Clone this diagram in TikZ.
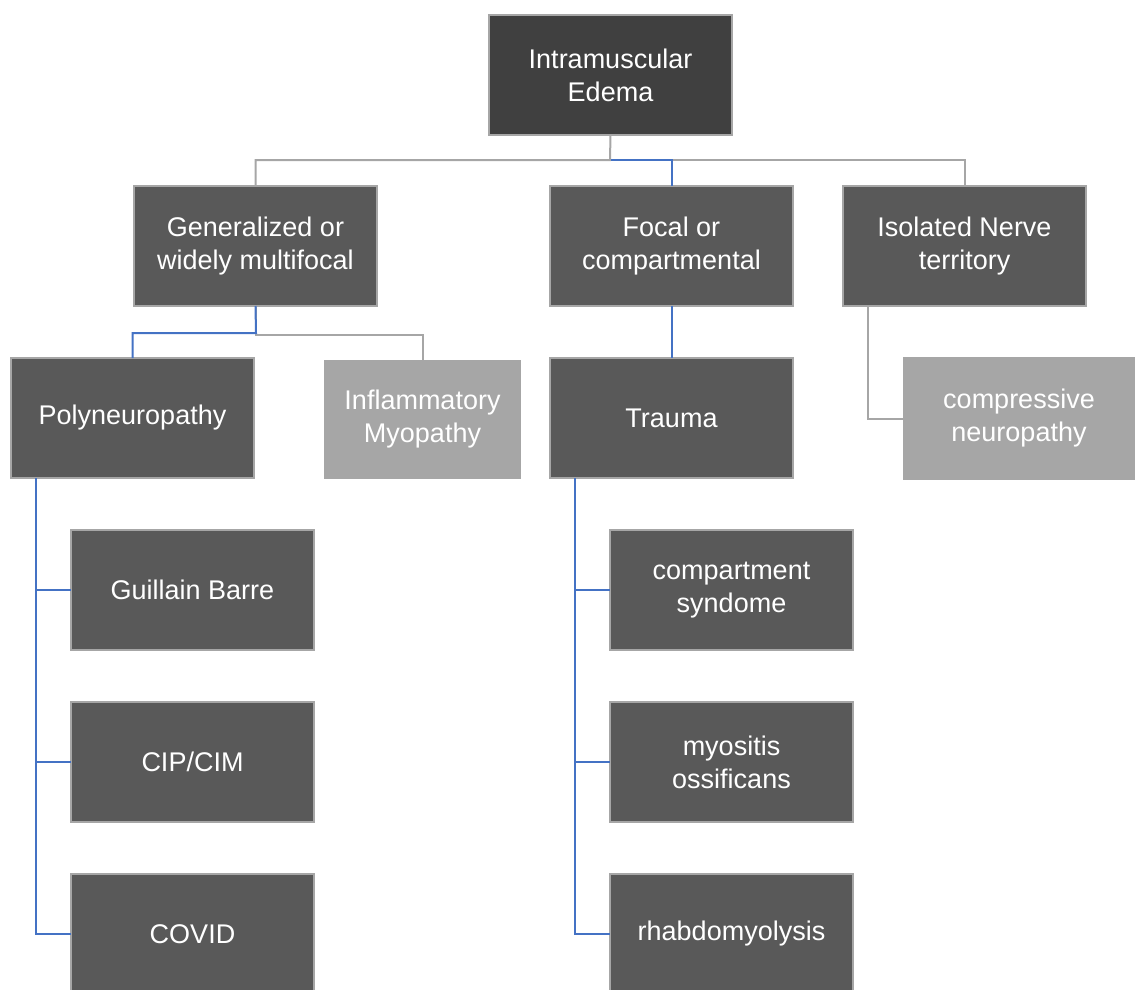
\documentclass[tikz,border=0pt]{standalone}
\usepackage{fontspec}
\setmainfont{Liberation Sans}
\definecolor{rootfill}{HTML}{404040}
\definecolor{boxfill}{HTML}{595959}
\definecolor{lightfill}{HTML}{A6A6A6}
\definecolor{edgegray}{HTML}{A6A6A6}
\definecolor{linkblue}{HTML}{4472C4}
\tikzset{
  box/.style={draw=edgegray, fill=boxfill, line width=2pt, text=white, align=center,
    font=\fontsize{27}{33}\selectfont, inner sep=0pt, outer sep=0pt,
    minimum width=243pt, minimum height=120pt, anchor=north west},
  rootbox/.style={box, fill=rootfill},
  lightbox/.style={box, draw=none, fill=lightfill},
  blue link/.style={draw=linkblue, line width=2pt},
  gray link/.style={draw=edgegray, line width=2pt},
}
\begin{document}
\begin{tikzpicture}[x=1pt,y=-1pt]
\useasboundingbox (0,0) rectangle (1135,990);
\clip (0,0) rectangle (1135,990);
% nodes
\node[rootbox] (root) at (489,15) {Intramuscular\\Edema};
\node[box] (gen) at (134,186) {Generalized or\\widely multifocal};
\node[box] (focal) at (550,186) {Focal or\\compartmental};
\node[box] (iso) at (843,186) {Isolated Nerve\\territory};
\node[box] (poly) at (11,358) {Polyneuropathy};
\node[lightbox, minimum width=197pt, minimum height=119pt] (infl) at (324,360) {Inflammatory\\Myopathy};
\node[box] (trauma) at (550,358) {Trauma};
\node[lightbox, minimum width=232pt, minimum height=123pt] (comp) at (903,357) {compressive\\neuropathy};
\node[box] (gb) at (71,530) {Guillain Barre};
\node[box] (cip) at (71,702) {CIP/CIM};
\node[box] (covid) at (71,874) {COVID};
\node[box] (csyn) at (610,530) {compartment\\syndome};
\node[box] (myo) at (610,702) {myositis\\ossificans};
\node[box] (rhab) at (610,874) {rhabdomyolysis};
% coordinates
\coordinate (rootbar) at (610,160);
\coordinate (genbar) at (256,333);
% root links
\draw[gray link] (root.south) -- (rootbar) -| (gen.north);
\draw[gray link] (rootbar) -| (iso.north);
\draw[blue link] (root.south |- rootbar) -| (focal.north);
% generalized links
\draw[gray link] (gen.south) |- ([yshift=-2pt]genbar) -| (infl.north);
\draw[blue link] (gen.south) -- (genbar) -| (poly.north);
% focal link
\draw[blue link] (focal.south) -- (trauma.north);
% isolated link
\draw[gray link] ([xshift=-96.5pt]iso.south) |- (comp.west);
% polyneuropathy children
\draw[blue link] ([xshift=-96.5pt]poly.south) |- (gb.west);
\draw[blue link] ([xshift=-96.5pt]poly.south) |- (cip.west);
\draw[blue link] ([xshift=-96.5pt]poly.south) |- (covid.west);
% trauma children
\draw[blue link] ([xshift=-96.5pt]trauma.south) |- (csyn.west);
\draw[blue link] ([xshift=-96.5pt]trauma.south) |- (myo.west);
\draw[blue link] ([xshift=-96.5pt]trauma.south) |- (rhab.west);
\end{tikzpicture}
\end{document}
